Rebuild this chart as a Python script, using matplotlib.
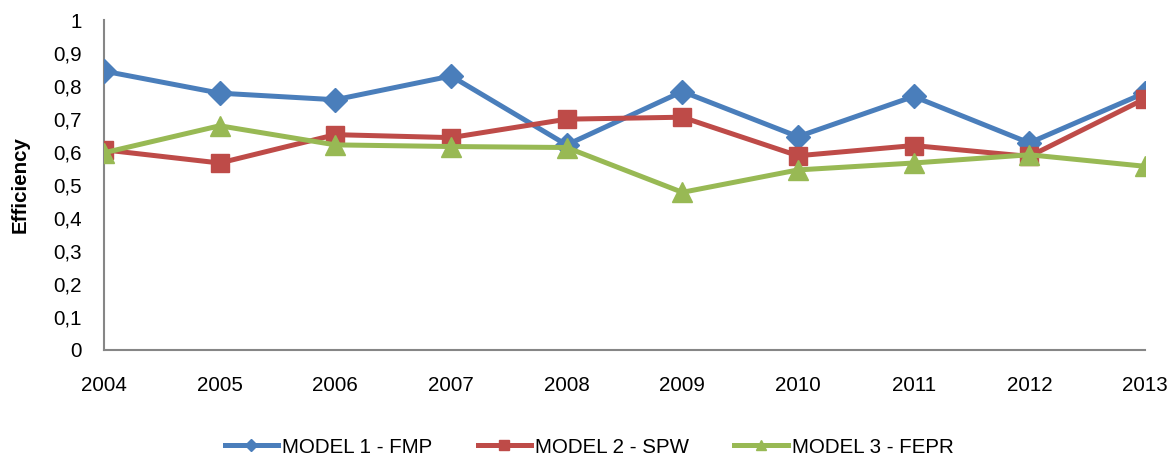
import matplotlib
matplotlib.use("Agg")
import matplotlib.pyplot as plt
from matplotlib.ticker import FuncFormatter

plt.rcParams['font.family'] = ['Liberation Sans', 'DejaVu Sans']

years = [2004, 2005, 2006, 2007, 2008, 2009, 2010, 2011, 2012, 2013]
model1 = [0.845, 0.778, 0.758, 0.830, 0.621, 0.783, 0.646, 0.768, 0.627, 0.779]
model2 = [0.606, 0.566, 0.652, 0.643, 0.699, 0.705, 0.588, 0.619, 0.586, 0.761]
model3 = [0.597, 0.679, 0.621, 0.616, 0.613, 0.477, 0.545, 0.566, 0.591, 0.556]
labels = ['MODEL 1 - FMP', 'MODEL 2 - SPW', 'MODEL 3 - FEPR']
colors = ['#4A7EBB', '#BE4B48', '#98B954']

FS = 14.8
fig = plt.figure(figsize=(11.76, 4.57), dpi=100)
ax = fig.add_axes([104/1176, 1-349.5/457, (1145-104)/1176, (349.5-20)/457])

ax.plot(years, model1, color=colors[0], lw=3.6, marker='D', ms=12, label=labels[0], zorder=3)
ax.plot(years, model2, color=colors[1], lw=3.6, marker='s', ms=13.5, label=labels[1], zorder=4)
ax.plot(years, model3, color=colors[2], lw=3.6, marker='^', ms=14, label=labels[2], zorder=5)

ax.set_xlim(2004, 2013)
ax.set_ylim(0, 1)
ax.set_xticks(years)
ax.set_xticklabels([str(y) for y in years])
ax.set_yticks([i / 10 for i in range(11)])
ax.yaxis.set_major_formatter(FuncFormatter(lambda v, p: ('%g' % round(v, 1)).replace('.', ',')))
ax.tick_params(axis='both', length=0, labelsize=FS, colors='black')
ax.tick_params(axis='x', pad=19)
ax.tick_params(axis='y', pad=16)
for s in ['top', 'right']:
    ax.spines[s].set_visible(False)
for s in ['left', 'bottom']:
    ax.spines[s].set_color('#868686')
    ax.spines[s].set_linewidth(1.5)

ax.set_ylabel('Efficiency', fontsize=FS, fontweight='bold')
ax.yaxis.set_label_coords(-74/1041, 0.5)

ax.legend(loc='center', bbox_to_anchor=(0.466, -0.296), ncol=3, frameon=False,
          fontsize=FS, handlelength=2.6, handletextpad=0.2, columnspacing=2.2,
          markerscale=0.55)

fig.savefig('out.png', dpi=100)
